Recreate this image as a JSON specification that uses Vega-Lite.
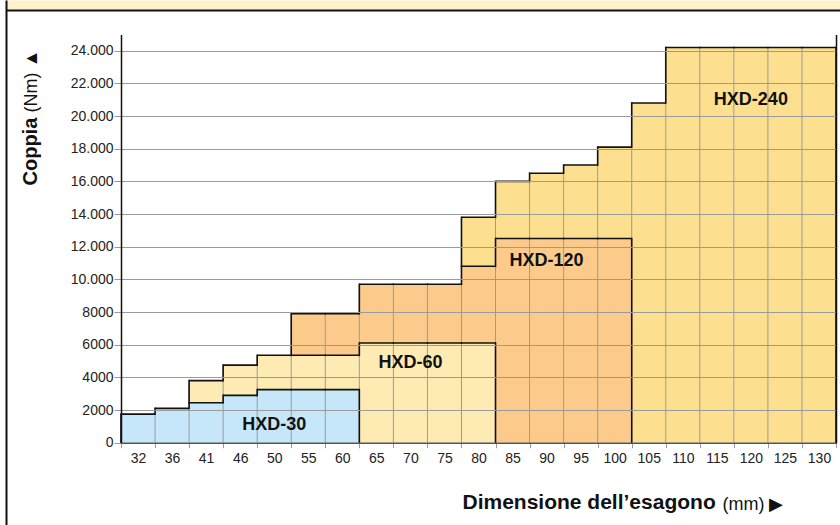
{
  "$schema": "https://vega.github.io/schema/vega-lite/v6.json",
  "width": 834,
  "height": 515,
  "autosize": {"type": "none"},
  "padding": {"left": 6, "top": 10, "right": 0, "bottom": 0},
  "background": "white",
  "config": {
    "view": {"fill": "white", "stroke": null},
    "font": "Liberation Sans",
    "axis": {"labelFont": "Liberation Sans", "titleFont": "Liberation Sans"}
  },
  "datasets": {
    "regions": [
      {"d": 32, "s": "HXD-30", "bot": 0, "top": 1750},
      {"d": 36, "s": "HXD-30", "bot": 0, "top": 2100},
      {"d": 41, "s": "HXD-30", "bot": 0, "top": 2450},
      {"d": 46, "s": "HXD-30", "bot": 0, "top": 2900},
      {"d": 50, "s": "HXD-30", "bot": 0, "top": 3250},
      {"d": 55, "s": "HXD-30", "bot": 0, "top": 3250},
      {"d": 60, "s": "HXD-30", "bot": 0, "top": 3250},
      {"d": 41, "s": "HXD-60", "bot": 2450, "top": 3800},
      {"d": 46, "s": "HXD-60", "bot": 2900, "top": 4750},
      {"d": 50, "s": "HXD-60", "bot": 3250, "top": 5350},
      {"d": 55, "s": "HXD-60", "bot": 3250, "top": 5350},
      {"d": 60, "s": "HXD-60", "bot": 3250, "top": 5350},
      {"d": 65, "s": "HXD-60", "bot": 0, "top": 6100},
      {"d": 70, "s": "HXD-60", "bot": 0, "top": 6100},
      {"d": 75, "s": "HXD-60", "bot": 0, "top": 6100},
      {"d": 80, "s": "HXD-60", "bot": 0, "top": 6100},
      {"d": 55, "s": "HXD-120", "bot": 5350, "top": 7900},
      {"d": 60, "s": "HXD-120", "bot": 5350, "top": 7900},
      {"d": 65, "s": "HXD-120", "bot": 6100, "top": 9700},
      {"d": 70, "s": "HXD-120", "bot": 6100, "top": 9700},
      {"d": 75, "s": "HXD-120", "bot": 6100, "top": 9700},
      {"d": 80, "s": "HXD-120", "bot": 6100, "top": 10800},
      {"d": 85, "s": "HXD-120", "bot": 0, "top": 12500},
      {"d": 90, "s": "HXD-120", "bot": 0, "top": 12500},
      {"d": 95, "s": "HXD-120", "bot": 0, "top": 12500},
      {"d": 100, "s": "HXD-120", "bot": 0, "top": 12500},
      {"d": 80, "s": "HXD-240", "bot": 10800, "top": 13800},
      {"d": 85, "s": "HXD-240", "bot": 12500, "top": 16000},
      {"d": 90, "s": "HXD-240", "bot": 12500, "top": 16500},
      {"d": 95, "s": "HXD-240", "bot": 12500, "top": 17000},
      {"d": 100, "s": "HXD-240", "bot": 12500, "top": 18100},
      {"d": 105, "s": "HXD-240", "bot": 0, "top": 20800},
      {"d": 110, "s": "HXD-240", "bot": 0, "top": 24200},
      {"d": 115, "s": "HXD-240", "bot": 0, "top": 24200},
      {"d": 120, "s": "HXD-240", "bot": 0, "top": 24200},
      {"d": 125, "s": "HXD-240", "bot": 0, "top": 24200},
      {"d": 130, "s": "HXD-240", "bot": 0, "top": 24200}
    ],
    "labels": [
      {"label": "HXD-30", "d": 50, "v": 1100},
      {"label": "HXD-60", "d": 70, "v": 4900},
      {"label": "HXD-120", "d": 90, "v": 11100},
      {"label": "HXD-240", "d": 120, "v": 21000}
    ]
  },
  "resolve": {"scale": {"x": "independent", "y": "independent"}},
  "layer": [
    {
      "resolve": {"axis": {"x": "independent", "y": "independent"}},
      "layer": [
        {
          "data": {"name": "regions"},
          "mark": {"type": "bar", "strokeWidth": 0},
          "encoding": {
            "x": {
              "field": "d", "type": "ordinal",
              "scale": {"type": "band", "domain": [32, 36, 41, 46, 50, 55, 60, 65, 70, 75, 80, 85, 90, 95, 100, 105, 110, 115, 120, 125, 130], "range": [115, 830], "paddingInner": 0, "paddingOuter": 0},
              "axis": {
                "orient": "bottom", "offset": -82.3, "tickBand": "extent", "tickSize": 5, "tickColor": "#999", "tickWidth": 1,
                "domainColor": "#555", "domainWidth": 1.5, "labelFontSize": 14, "labelColor": "#222", "labelPadding": 4, "labelAngle": 0,
                "grid": false, "zindex": 1,
                "title": "Dimensione dell’esagono", "titleFontSize": 21, "titleFontWeight": "bold", "titleColor": "#111",
                "titleX": 456, "titleY": 66, "titleAlign": "left", "titleAnchor": null, "titleBaseline": "alphabetic", "titleAngle": 0
              }
            },
            "y": {
              "field": "top", "type": "quantitative", "stack": null,
              "scale": {"domain": [0, 25000], "range": [432.7, 24.4], "nice": false, "zero": false},
              "axis": {
                "orient": "left", "offset": -115, "values": [0, 2000, 4000, 6000, 8000, 10000, 12000, 14000, 16000, 18000, 20000, 22000, 24000],
                "tickSize": 7, "tickColor": "#999", "domainColor": "#111", "domainWidth": 1.5, "labelFontSize": 14, "labelColor": "#222",
                "labelPadding": 1, "grid": true, "gridColor": "#9a9a9a", "gridWidth": 1, "zindex": 1,
                "labelExpr": "datum.value >= 10000 ? floor(datum.value / 1000) + '.000' : '' + datum.value",
                "title": "Coppia", "titleFontSize": 20, "titleFontWeight": "bold", "titleColor": "#111", "titleAngle": -90,
                "titleAlign": "left", "titleBaseline": "alphabetic", "titleX": -85, "titleY": 175, "titleAnchor": null
              }
            },
            "y2": {"field": "bot"},
            "color": {
              "field": "s", "type": "nominal",
              "scale": {"domain": ["HXD-30", "HXD-60", "HXD-120", "HXD-240"], "range": ["#C6E7F9", "#FDEBB3", "#FCCB8C", "#FDE08F"]},
              "legend": null
            }
          }
        },
        {
          "data": {"name": "regions"},
          "mark": {"type": "rule", "color": "#9a9a9a", "strokeWidth": 1},
          "encoding": {
            "x": {
              "field": "d", "type": "ordinal", "bandPosition": 0,
              "axis": {
                "orient": "top", "offset": 0, "domain": false, "ticks": false, "labels": false, "grid": false,
                "title": "(mm) ▶", "titleFontSize": 18, "titleFontWeight": "normal", "titleColor": "#111",
                "titleX": 716, "titleY": 499, "titleAlign": "left", "titleBaseline": "alphabetic", "titleAnchor": null, "titleAngle": 0
              }
            },
            "y": {"field": "bot", "type": "quantitative", "axis": null},
            "y2": {"field": "top"}
          }
        },
        {
          "data": {"name": "regions"},
          "mark": {"type": "bar", "fillOpacity": 0, "stroke": "#111", "strokeWidth": 1.6},
          "encoding": {
            "x": {"field": "d", "type": "ordinal", "axis": null},
            "y": {
              "field": "top", "type": "quantitative", "stack": null,
              "axis": {
                "orient": "right", "offset": -4, "domainColor": "#111", "domainWidth": 1.5, "labels": false, "ticks": false, "grid": false, "zindex": 1,
                "title": "(Nm) ▲", "titleFontSize": 18, "titleFontWeight": "normal", "titleColor": "#111", "titleAngle": -90,
                "titleAlign": "left", "titleBaseline": "alphabetic", "titleX": -800, "titleY": 102, "titleAnchor": null
              }
            },
            "y2": {"field": "top"}
          }
        },
        {
          "data": {"name": "regions"},
          "transform": [
            {"window": [{"op": "lag", "field": "top", "as": "prev"}], "groupby": ["s"], "sort": [{"field": "d", "order": "ascending"}]},
            {"calculate": "datum.prev == null ? datum.bot : datum.prev", "as": "from"}
          ],
          "mark": {"type": "rule", "color": "#111", "strokeWidth": 1.6, "strokeCap": "square"},
          "encoding": {
            "x": {"field": "d", "type": "ordinal", "bandPosition": 0, "axis": null},
            "y": {"field": "from", "type": "quantitative", "axis": null},
            "y2": {"field": "top"}
          }
        },
        {
          "data": {"name": "regions"},
          "transform": [
            {"window": [{"op": "lead", "field": "top", "as": "next"}], "groupby": ["s"], "sort": [{"field": "d", "order": "ascending"}]},
            {"filter": "datum.next == null"}
          ],
          "mark": {"type": "rule", "color": "#111", "strokeWidth": 1.6, "strokeCap": "square"},
          "encoding": {
            "x": {"field": "d", "type": "ordinal", "bandPosition": 1, "axis": null},
            "y": {"field": "bot", "type": "quantitative", "axis": null},
            "y2": {"field": "top"}
          }
        },
        {
          "data": {"name": "labels"},
          "mark": {"type": "text", "fontSize": 18, "fontWeight": "bold", "font": "Liberation Sans", "color": "#111", "align": "center", "baseline": "middle"},
          "encoding": {
            "x": {"field": "d", "type": "ordinal", "axis": null},
            "y": {"field": "v", "type": "quantitative", "axis": null},
            "text": {"field": "label"}
          }
        }
      ]
    },
    {
      "data": {"values": [{}]},
      "mark": {"type": "point", "opacity": 0},
      "encoding": {
        "x": {
          "datum": 0, "type": "quantitative", "scale": {"domain": [0, 1]},
          "axis": {"orient": "top", "offset": 5, "domain": true, "domainColor": "#FFF3CB", "domainWidth": 10, "domainCap": "butt", "labels": false, "ticks": false, "grid": false, "title": null, "zindex": 1}
        },
        "y": {
          "datum": 0, "type": "quantitative", "scale": {"domain": [0, 1], "range": [515, -10]},
          "axis": {"orient": "left", "offset": 0, "domain": true, "domainColor": "#111", "domainWidth": 2, "labels": false, "ticks": false, "grid": false, "title": null, "zindex": 2}
        }
      }
    },
    {
      "data": {"values": [{}]},
      "mark": {"type": "point", "opacity": 0},
      "encoding": {
        "x": {
          "datum": 0, "type": "quantitative", "scale": {"domain": [0, 1]},
          "axis": {"orient": "top", "offset": 0, "domain": true, "domainColor": "#111", "domainWidth": 2, "labels": false, "ticks": false, "grid": false, "title": null, "zindex": 2}
        },
        "y": {"datum": 0, "type": "quantitative", "axis": null}
      }
    }
  ]
}
